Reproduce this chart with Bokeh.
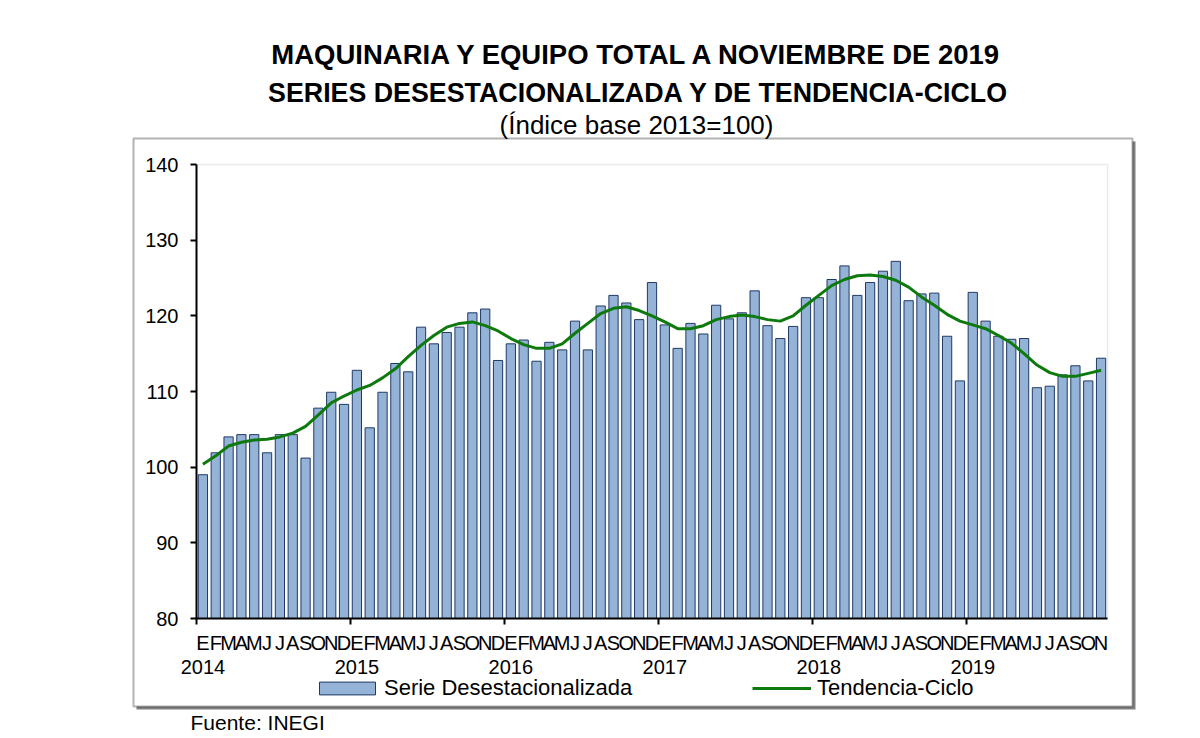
from bokeh.plotting import figure
from bokeh.models import (Range1d, LinearAxis, FixedTicker, Label, BoxAnnotation,
                          Legend, LegendItem, ColumnDataSource)
from bokeh.embed import file_html
from bokeh.resources import INLINE

# ---------------- data ----------------
month_letters = ["E", "F", "M", "A", "M", "J", "J", "A", "S", "O", "N", "D"]
years = ["2014", "2015", "2016", "2017", "2018", "2019"]

serie_desestacionalizada = [
    99.0, 101.9, 104.0, 104.3, 104.3, 101.9, 104.3, 104.3, 101.2, 107.8, 109.9, 108.3,   # 2014
    112.8, 105.2, 109.9, 113.7, 112.6, 118.5, 116.3, 117.8, 118.5, 120.4, 120.9, 114.1,  # 2015
    116.3, 116.8, 114.0, 116.5, 115.5, 119.3, 115.5, 121.3, 122.7, 121.7, 119.5, 124.4,  # 2016
    118.8, 115.7, 119.0, 117.6, 121.4, 119.6, 120.4, 123.3, 118.7, 117.0, 118.6, 122.4,  # 2017
    122.4, 124.8, 126.6, 122.7, 124.4, 125.9, 127.2, 122.0, 122.9, 123.0, 117.3, 111.4,  # 2018
    123.1, 119.3, 117.3, 116.9, 117.0, 110.5, 110.7, 112.2, 113.4, 111.4, 114.4,         # 2019
]
tendencia_ciclo = [
    100.4, 101.5, 102.8, 103.3, 103.6, 103.7, 104.0, 104.5, 105.4, 106.9, 108.5, 109.4,
    110.2, 110.8, 111.8, 113.0, 114.6, 116.1, 117.4, 118.5, 119.0, 119.2, 118.7, 118.0,
    117.0, 116.2, 115.7, 115.7, 116.3, 117.7, 119.0, 120.3, 121.0, 121.2, 120.7, 120.0,
    119.2, 118.3, 118.3, 118.7, 119.5, 119.9, 120.1, 119.9, 119.5, 119.3, 120.0, 121.4,
    122.7, 124.0, 124.8, 125.3, 125.4, 125.2, 124.7, 123.8, 122.5, 121.4, 120.2, 119.3,
    118.8, 118.3, 117.4, 116.4, 115.0, 113.5, 112.5, 112.0, 112.0, 112.4, 112.8,
]
y_ticks = [80, 90, 100, 110, 120, 130, 140]

title_1 = "MAQUINARIA Y EQUIPO TOTAL A NOVIEMBRE DE 2019"
title_2 = "SERIES DESESTACIONALIZADA Y DE TENDENCIA-CICLO"
title_3 = "(Índice base 2013=100)"
source_note = "Fuente: INEGI"
legend_bar = "Serie Desestacionalizada"
legend_line = "Tendencia-Ciclo"

# ---------------- layout (pixels) ----------------
W, H = 1184, 736
PL, PR, PT, PB = 196, 1107, 164, 618      # inner plot area
BL, BR, BT, BB = 133, 1132, 138, 706      # outer framed box
Y0, Y1 = 80, 140

n = len(serie_desestacionalizada)
idx = list(range(n))
x_lo, x_hi = -0.5, n - 0.5
kx = (PR - PL) / (x_hi - x_lo)
ky = (PB - PT) / (Y1 - Y0)
x_start = x_lo - PL / kx
x_end = x_start + W / kx
y_end = Y1 + PT / ky
y_start = y_end - H / ky


def dx(px):
    return x_start + px / kx


def dy(py):
    return y_end - py / ky


FONT = "Liberation Sans"
src = ColumnDataSource(dict(x=idx, serie=serie_desestacionalizada, tend=tendencia_ciclo))

p = figure(x_range=Range1d(x_start, x_end), y_range=Range1d(y_start, y_end),
           frame_width=W, frame_height=H, min_border=0,
           output_backend="svg", toolbar_location=None,
           x_axis_type=None, y_axis_type=None)
p.xgrid.visible = False
p.ygrid.visible = False
p.outline_line_color = None
p.background_fill_color = "white"
p.border_fill_color = "white"

# outer box with shadow
p.add_layout(BoxAnnotation(left=dx(BL + 3), right=dx(BR + 3), top=dy(BT + 3), bottom=dy(BB + 3),
                           fill_color="#808080", fill_alpha=1.0, line_color=None, level="underlay"))
p.add_layout(BoxAnnotation(left=dx(BL), right=dx(BR), top=dy(BT), bottom=dy(BB),
                           fill_color="white", fill_alpha=1.0, line_color="black", line_width=2,
                           level="underlay"))
# inner plot-area outline (grey)
p.add_layout(BoxAnnotation(left=x_lo, right=x_hi, top=Y1, bottom=Y0,
                           fill_color=None, line_color="#BDBDBD", line_width=1.5, level="underlay"))

bars = p.vbar(x="x", top="serie", bottom=Y0, width=0.72, source=src,
              fill_color="#95B3D7", line_color="#1F3A66", line_width=1)
line = p.line(x="x", y="tend", source=src, line_color="#0E7A0E", line_width=3)

# y axis
yaxis = LinearAxis(ticker=FixedTicker(ticks=y_ticks, minor_ticks=[]),
                   fixed_location=x_lo, bounds=(Y0, Y1),
                   major_label_text_font=FONT, major_label_text_font_size="20px",
                   major_label_text_color="black",
                   major_tick_out=6, major_tick_in=0, minor_tick_out=0, minor_tick_in=0,
                   axis_line_color="black", axis_line_width=2,
                   major_tick_line_color="black", major_tick_line_width=2,
                   major_label_standoff=12)
p.add_layout(yaxis, "left")

# month axis
year_bounds = [i - 0.5 for i in range(0, n, 12)]
xaxis_m = LinearAxis(ticker=FixedTicker(ticks=idx, minor_ticks=year_bounds),
                     fixed_location=Y0, bounds=(x_lo, x_hi),
                     major_label_overrides={i: month_letters[i % 12] for i in idx},
                     major_label_text_font=FONT, major_label_text_font_size="20px",
                     major_label_text_color="black",
                     major_tick_out=0, major_tick_in=0,
                     minor_tick_out=6, minor_tick_in=0,
                     minor_tick_line_color="black", minor_tick_line_width=2,
                     axis_line_color="black", axis_line_width=2,
                     major_label_standoff=7)
p.add_layout(xaxis_m, "below")

# year axis
jan_idx = list(range(0, n, 12))
xaxis_y = LinearAxis(ticker=FixedTicker(ticks=jan_idx, minor_ticks=[]),
                     fixed_location=Y0, bounds=(x_lo, x_hi),
                     major_label_overrides={i: years[k] for k, i in enumerate(jan_idx)},
                     major_label_text_font=FONT, major_label_text_font_size="20px",
                     major_label_text_color="black",
                     major_tick_out=0, major_tick_in=0, minor_tick_out=0,
                     axis_line_color=None, major_tick_line_color=None, minor_tick_line_color=None,
                     major_label_standoff=41)
p.add_layout(xaxis_y, "below")

# legends (two, so each item gets its own glyph size)
legend1 = Legend(items=[LegendItem(label=legend_bar, renderers=[bars])],
                 orientation="horizontal", location=(312, H - 701),
                 glyph_width=70, glyph_height=16, label_standoff=2,
                 label_text_font=FONT, label_text_font_size="22px", label_text_color="black",
                 spacing=0, padding=0, margin=0,
                 border_line_color=None, background_fill_alpha=0)
legend2 = Legend(items=[LegendItem(label=legend_line, renderers=[line])],
                 orientation="horizontal", location=(752, H - 701),
                 glyph_width=59, glyph_height=16, label_standoff=6,
                 label_text_font=FONT, label_text_font_size="22px", label_text_color="black",
                 spacing=0, padding=0, margin=0,
                 border_line_color=None, background_fill_alpha=0)
p.add_layout(legend1, "center")
p.add_layout(legend2, "center")

# titles and source
p.add_layout(Label(x=dx(637), y=dy(54), text=title_1,
                   text_align="center", text_baseline="middle",
                   text_font=FONT, text_font_size="27.5px", text_font_style="bold",
                   text_color="black"))
p.add_layout(Label(x=dx(638), y=dy(92), text=title_2,
                   text_align="center", text_baseline="middle",
                   text_font=FONT, text_font_size="26.8px", text_font_style="bold",
                   text_color="black"))
p.add_layout(Label(x=dx(636), y=dy(124), text=title_3,
                   text_align="center", text_baseline="middle",
                   text_font=FONT, text_font_size="26px",
                   text_color="black"))
p.add_layout(Label(x=dx(190), y=dy(722), text=source_note,
                   text_align="left", text_baseline="middle",
                   text_font=FONT, text_font_size="21px",
                   text_color="black"))

open("out.html", "w").write(file_html(p, INLINE))
